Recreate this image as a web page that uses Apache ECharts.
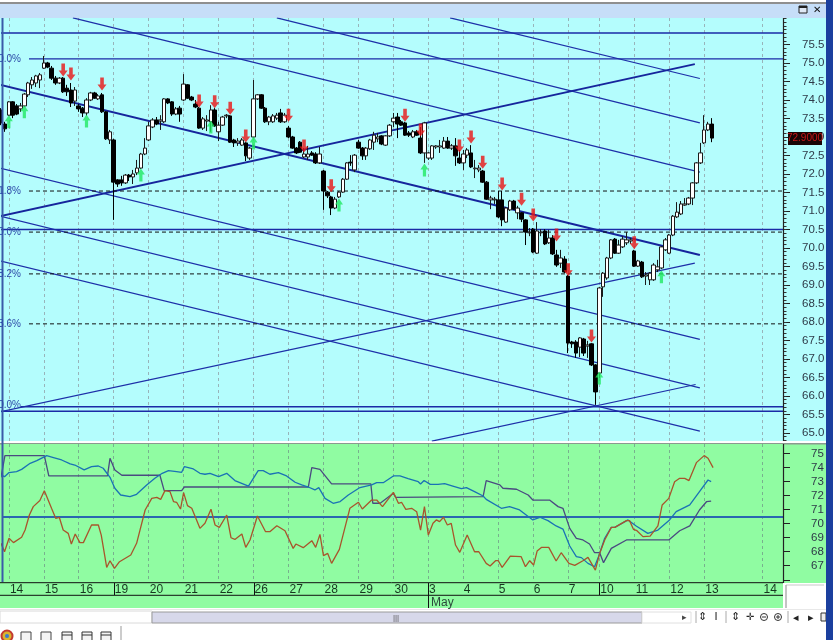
<!DOCTYPE html>
<html><head><meta charset="utf-8">
<style>html,body{margin:0;padding:0;background:#fff}#c{width:833px;height:640px}</style>
<script src="https://cdn.jsdelivr.net/npm/echarts@6/dist/echarts.min.js"></script>
</head><body><div id="c"></div>
<script>
// hourly bars: [open, close, low, high]
const ohlc = [
[73.73,73.38,73.32,73.78],[73.35,73.22,73.14,73.41],[73.59,73.95,73.57,73.97],[73.95,73.59,73.51,73.97],[73.84,73.62,73.59,73.89],
[73.76,73.84,73.68,73.92],[73.84,74.16,73.81,74.19],[74.14,74.46,74.08,74.49],[74.41,74.54,74.30,74.62],[74.46,74.65,74.35,74.68],
[74.54,74.68,74.32,74.73],[74.86,75.00,74.84,75.19],[75.00,74.89,74.86,75.03],[74.86,74.59,74.54,74.92],[74.59,74.46,74.41,74.65],
[74.46,74.59,74.43,74.62],[74.59,74.22,74.19,74.62],[74.32,74.22,74.11,74.41],[74.27,73.92,73.81,74.46],[73.97,74.27,73.84,74.35],
[73.84,73.76,73.68,73.89],[73.78,73.65,73.54,73.81],[73.65,74.00,73.57,74.05],[74.00,74.19,73.97,74.22],[74.19,74.05,74.03,74.22],
[74.03,74.11,74.00,74.16],[74.14,73.68,73.65,74.19],[73.68,72.95,72.92,73.70],[72.92,73.14,72.81,73.19],[72.92,71.78,70.76,72.95],
[71.84,71.73,71.65,71.86],[71.84,71.76,71.68,71.95],[71.76,71.97,71.73,72.00],[71.97,71.92,71.81,72.00],[71.92,72.00,71.73,72.11],
[72.03,72.16,71.97,72.38],[72.16,72.54,72.14,72.57],[72.54,72.70,72.51,72.97],[72.92,73.30,72.89,73.41],[73.27,73.46,73.24,73.51],
[73.46,73.35,73.32,73.54],[73.43,73.46,73.19,73.59],[73.41,74.03,73.38,74.05],[74.03,73.92,73.89,74.05],[73.95,73.62,73.57,73.97],
[73.62,73.76,73.59,73.81],[73.78,73.62,73.41,73.84],[74.00,74.43,73.97,74.70],[74.41,74.05,74.03,74.43],[74.08,74.00,73.97,74.11],
[73.89,73.81,73.78,74.00],[73.78,73.24,73.22,73.81],[73.24,73.49,73.19,73.54],[73.43,73.46,73.16,73.59],[73.41,73.73,73.14,73.86],
[73.73,73.30,73.27,73.78],[73.14,73.32,72.89,73.41],[73.32,73.54,73.30,73.57],[73.57,73.59,73.51,73.62],[73.57,72.86,72.84,73.59],
[72.92,72.84,72.73,72.95],[72.84,72.89,72.76,72.97],[72.78,72.92,72.76,72.97],[72.84,72.49,72.35,72.86],[72.43,72.70,72.38,72.73],
[73.00,74.03,72.97,74.54],[74.03,74.14,74.00,74.16],[74.14,73.78,73.76,74.16],[73.78,73.41,73.38,73.81],[73.41,73.54,73.32,73.57],
[73.41,73.57,73.38,73.62],[73.51,73.59,73.46,73.65],[73.65,73.41,73.38,73.76],[73.41,73.59,73.38,73.65],[73.24,73.00,72.97,73.30],
[73.00,72.70,72.68,73.03],[72.70,72.57,72.54,72.73],[72.86,72.59,72.57,72.89],[72.46,72.54,72.43,72.70],[72.46,72.54,72.38,72.76],
[72.57,72.51,72.49,72.62],[72.54,72.30,72.27,72.59],[72.30,72.54,72.27,72.73],[72.08,71.54,71.03,72.11],[71.51,71.41,71.35,71.54],
[71.38,71.08,70.89,71.41],[71.08,71.32,71.05,71.38],[71.38,71.51,71.35,71.54],[71.51,71.86,71.49,71.89],[71.86,72.30,71.84,72.32],
[72.32,72.30,72.22,72.51],[72.11,72.51,72.05,72.54],[72.86,72.70,72.68,72.92],[72.70,72.49,72.38,72.73],[72.49,72.70,72.38,72.73],
[72.68,72.92,72.65,72.95],[72.86,73.05,72.65,73.14],[72.95,73.00,72.86,73.11],[73.03,72.81,72.78,73.05],[72.78,73.03,72.76,73.05],
[73.03,73.32,73.00,73.35],[73.41,73.51,73.27,73.65],[73.54,73.35,72.97,73.65],[73.41,73.32,73.30,73.46],[73.38,73.05,73.03,73.41],
[73.11,73.05,73.00,73.16],[73.00,73.14,72.97,73.19],[73.14,73.05,73.03,73.19],[72.97,72.57,72.54,73.27],[72.57,73.38,72.30,73.41],
[72.43,72.57,72.38,72.59],[72.43,72.76,72.38,72.78],[72.73,72.76,72.68,72.78],[72.73,72.76,72.57,72.92],[72.70,72.89,72.68,73.00],
[72.89,72.70,72.68,73.00],[72.70,72.76,72.65,72.81],[72.76,72.49,72.22,72.97],[72.43,72.30,72.27,72.65],[72.30,72.54,72.11,72.65],
[72.51,72.65,72.43,72.70],[72.57,72.19,72.16,72.78],[72.14,72.16,71.89,72.38],[72.11,72.16,72.05,72.24],[72.08,71.78,71.76,72.11],
[71.78,71.32,71.30,71.81],[71.30,71.35,71.05,71.41],[71.30,71.32,71.19,71.38],[71.30,70.84,70.81,71.54],[71.30,70.76,70.59,71.54],
[70.70,71.08,70.68,71.11],[71.03,71.27,71.00,71.30],[71.27,71.05,71.03,71.30],[70.95,71.08,70.78,71.14],[70.95,70.78,70.70,70.97],
[70.76,70.43,70.08,70.78],[70.41,70.43,70.32,70.54],[70.51,69.89,69.86,70.54],[69.86,70.46,69.84,70.70],[70.41,70.43,70.32,70.51],
[70.46,70.11,70.08,70.51],[70.14,70.27,70.11,70.49],[70.27,69.84,69.81,70.35],[69.81,69.54,69.49,69.95],[69.59,69.73,69.46,69.95],
[69.70,69.35,69.32,69.78],[69.24,67.43,67.16,69.27],[67.46,67.41,67.30,67.49],[67.46,67.16,67.03,67.51],[67.32,67.57,67.05,67.59],
[67.54,67.16,67.08,67.57],[67.35,67.38,67.03,67.49],[67.41,66.84,66.81,67.43],[66.84,66.11,65.76,66.86],[66.62,68.92,66.49,68.95],
[68.95,69.32,68.68,69.35],[69.19,69.73,69.14,69.76],[69.73,70.22,69.70,70.24],[70.24,69.86,69.84,70.27],[69.86,70.08,69.84,70.22],
[70.03,70.24,70.00,70.32],[70.14,70.22,70.08,70.43],[70.19,70.22,70.11,70.27],[69.92,69.51,69.49,69.95],[69.51,69.65,69.49,69.68],
[69.62,69.22,69.19,69.65],[69.24,69.27,69.00,69.35],[69.14,69.32,69.00,69.35],[69.14,69.54,69.11,69.59],[69.41,69.49,69.35,69.68],
[69.46,70.03,69.43,70.05],[69.95,70.22,69.92,70.27],[69.86,70.35,69.84,70.38],[70.35,70.86,70.32,70.89],[70.84,70.97,70.81,71.24],
[70.92,71.19,70.89,71.27],[71.16,71.19,71.14,71.35],[71.19,71.35,71.16,71.38],[71.35,71.76,71.16,71.78],[71.76,72.30,71.73,72.32],
[72.30,72.57,72.27,72.84],[72.84,73.19,72.81,73.59],[73.19,73.35,73.16,73.41],[73.35,72.97,72.86,73.51]
];
const sellArrows = [[16,74.81],[18,74.70],[26,74.43],[51,73.97],[55,73.95],[59,73.78],[63,73.03],[74,73.59],[78,72.76],[85,71.68],[104,73.59],[108,73.19],[118,72.76],[121,73.00],[124,72.32],[129,71.73],[134,71.32],[137,70.89],[143,70.35],[146,69.41],[152,67.62],[163,70.14]];
const buyArrows = [[2,73.41],[6,73.68],[22,73.43],[36,71.97],[54,73.27],[65,72.84],[87,71.16],[109,72.11],[154,66.49],[170,69.22]];
// channel lines [[bar, price],[bar, price]]
const thinLines = [
 [[18.5,76.22],[179.9,72.05]],[[71,76.22],[179.9,73.38]],[[115.6,76.22],[179.9,74.58]],
 [[-0.26,72.16],[179.9,67.53]],[[-0.26,70.86],[179.9,66.22]],[[-0.26,69.65],[179.9,65.05]],
 [[-0.26,65.57],[178.6,69.59]],[[110.9,64.78],[178.8,66.31]]
];
const thickLines = [[[-0.26,74.41],[179.9,69.81]],[[-0.26,70.86],[178.6,74.97]]];
const fibLevels = [[0,75.81],[7.2,75.11],[0,70.50],[5,65.71],[0,65.59]];
const fibDashed = [[7.2,71.54],[7.2,70.43],[7.2,69.30],[7.2,67.95]];
const fibLabels = [[75.11,'0.0%'],[71.54,'1.8%'],[70.43,'0.0%'],[69.30,'8.2%'],[67.95,'3.6%'],[65.75,'0.0%']];
const lowerRed = [[0,68.60],[0.9,68.0],[2.06,68.96],[3.2,68.65],[5.3,69.03],[6.2,69.55],[7.3,70.62],[8.3,71.22],[10,71.65],[11.15,72.36],[13,71.10],[14.1,70.38],[15,70.46],[16,69.55],[17.3,69.31],[18.1,68.55],[19.1,69.27],[20.3,68.65],[21.2,68.65],[23.3,69.91],[25.05,69.91],[25.8,69.19],[27.2,66.88],[28.05,67.36],[29.2,66.81],[30.5,67.29],[33.4,67.77],[34.9,68.60],[37.1,70.98],[38.8,71.81],[40.1,71.88],[41.1,71.74],[42.2,72.36],[43.5,72.29],[44.4,71.58],[45.2,71.53],[46.2,71.05],[47,72.22],[48,71.29],[49.1,71.10],[51.2,69.67],[52.5,70.03],[54.05,71.03],[55.1,69.91],[56.2,69.74],[58.1,70.62],[59.2,69.00],[60.2,68.88],[62,69.27],[63,68.31],[64.1,68.84],[66,70.55],[68.1,69.43],[69.2,69.43],[71,69.86],[73.1,69.50],[75.2,68.24],[75.9,68.55],[77.8,68.29],[80,68.79],[81,68.31],[82.1,69.24],[83,67.72],[84.1,67.88],[85.1,67.17],[87.1,68.17],[89.8,71.10],[92,71.53],[93,71.05],[95.4,71.69],[96.7,71.69],[98.2,71.22],[101,72.24],[102.3,71.46],[103.1,71.53],[104.2,71.03],[105.7,71.10],[107,70.86],[108,69.55],[109,71.22],[110,69.19],[111.2,70.03],[112.05,70.27],[112.9,70.15],[113.9,70.46],[114.9,69.91],[115.9,70.03],[117,68.48],[118.1,67.96],[120,69.19],[121.9,68.00],[123,68.00],[124.9,67.17],[125.9,66.98],[127.3,67.36],[128,67.36],[129,66.88],[131.1,67.69],[133.9,67.65],[135,66.93],[136.1,67.36],[137.1,67.05],[138,68.05],[139.1,68.31],[141,68.31],[142.9,67.34],[144.2,67.93],[146.2,67.17],[147.7,67.03],[149.8,67.36],[151.1,67.60],[153,66.69],[154.1,67.88],[155.4,68.84],[157.1,69.74],[158,69.74],[161,70.22],[161.8,70.22],[162.8,69.60],[163.7,69.50],[165.25,69.08],[167.1,69.12],[169.1,69.84],[170.2,71.34],[171.9,71.81],[173.4,73.00],[174.7,73.24],[176,73.24],[177.1,73.08],[179,74.36],[181,74.86],[182,74.67],[183.3,74.00]];
const lowerBlue = [[0,73.48],[0.9,73.36],[2.06,73.65],[4,73.72],[5.3,73.88],[7.5,74.31],[9.2,74.50],[11.75,74.86],[13.5,74.72],[15.6,74.55],[17.8,74.27],[19,74.19],[21.4,73.84],[23.3,74.08],[25.05,74.12],[26.3,73.96],[28.05,73.31],[29.3,72.53],[30.8,72.05],[33.2,71.93],[34.9,72.10],[37.5,72.77],[39.6,73.24],[41.5,73.60],[43.1,73.79],[45.2,73.72],[46.5,73.67],[47.2,74.08],[49.5,73.91],[51.2,73.60],[52.5,73.53],[53.8,73.60],[56,73.36],[58.1,73.60],[60.2,73.08],[63.7,72.69],[66.2,73.79],[67.5,73.79],[69.2,73.53],[71.4,73.65],[73.5,73.41],[75.7,72.96],[77.4,72.77],[79.1,72.62],[80.8,72.41],[81.8,72.58],[83.4,71.81],[85.5,71.46],[87.3,71.58],[89.4,72.05],[92.4,72.58],[95.4,72.77],[96.7,72.93],[98.4,72.93],[101,73.41],[102.7,73.41],[104.8,73.22],[107.4,73.00],[108,72.84],[108.9,73.08],[110.5,72.81],[112.5,72.81],[114.2,72.86],[116.3,72.69],[118.5,72.50],[119.8,72.58],[121.9,72.29],[124.1,71.98],[124.9,71.74],[128.8,71.10],[130.9,71.22],[133.5,70.98],[136.9,70.27],[138.7,70.46],[140.8,70.22],[142.9,69.84],[144.65,69.62],[146.4,68.41],[148.1,67.65],[149.4,67.58],[151.1,67.17],[152.8,66.93],[153.8,67.65],[155.4,68.96],[157.1,69.74],[158,69.74],[161.4,70.27],[163.5,69.84],[166.5,69.31],[169.1,69.55],[172.1,70.27],[173.8,70.86],[177.3,71.34],[179.8,72.29],[182,73.12],[182.8,73.00]];
const lowerPurple = [[0,73.31],[1,74.86],[11.15,74.86],[12.3,73.41],[27.4,73.41],[28.05,74.67],[29.3,73.84],[31.1,73.46],[40.9,73.46],[42,72.36],[46.5,72.36],[47.2,72.62],[79.1,72.62],[80,74.00],[82.1,73.88],[85.1,72.84],[95.2,72.84],[95.7,71.46],[97.6,71.46],[101,72.17],[101.6,71.88],[124.1,71.93],[124.9,73.08],[128.4,72.77],[129.2,72.53],[132.7,72.46],[135.7,72.05],[136.9,71.69],[141.2,71.69],[143.4,71.22],[144.65,71.10],[146.4,69.67],[148.1,68.96],[149.8,68.84],[151.5,68.55],[152.8,67.93],[154.1,67.93],[155.1,67.22],[157.1,68.24],[161,68.84],[171.9,68.84],[174.7,69.50],[177.3,69.84],[179.8,70.98],[181.6,71.57],[182.8,71.62]];
const lowerLevel = 70.48;
// vertical day divisions and date labels, in bar numbers
const dayBars = [2,11,20,29,38,47,56,65,74,83,92,101,110,119,128,137,146,154,163,172,181,196];
const dateBars = [4,13,22,31,40,49,58,67,76,85,94,103,111,120,129,138,147,156,165,174,183,198];
const dateLabels = ['14','15','16','19','20','21','22','26','27','28','29','30','3','4','5','6','7','10','11','12','13','14'];
const priceTicks = [65,65.5,66,66.5,67,67.5,68,68.5,69,69.5,70,70.5,71,71.5,72,72.5,73,73.5,74,74.5,75,75.5];
const lowerTicks = [66,67,68,69,70,71,72,73,74,75];
const lowerLabels = [67,68,69,70,71,72,73,74,75];
const lastPrice = '72.9000';

const CYAN='#b4fdfd', GREEN='#90fca2', FONT='"Liberation Sans",Arial,sans-serif';
const X0=0.25, X1=201.3;
const minor=[]; for(let k=648;k<=762;k++){minor.push(k/10);}
const xBase=(extra)=>Object.assign({type:'value',min:X0,max:X1,axisLine:{show:false},axisLabel:{show:false},axisTick:{show:false,customValues:dayBars},
  splitLine:{show:true,lineStyle:{type:[3,3],width:1,color:'#98b4ba'}}},extra||{});
const lineSeries=(data,color,width,x,y,type,z)=>({type:'line',xAxisIndex:x,yAxisIndex:y,data,showSymbol:false,symbol:'none',silent:true,animation:false,z:z||2,
  lineStyle:{color,width,type:type||'solid'}});
const series=[];
thinLines.forEach(l=>series.push(lineSeries(l,'#1d2fa8',1.2,0,0)));
thickLines.forEach(l=>series.push(lineSeries(l,'#16259c',2,0,0)));
fibLevels.forEach(([s,p])=>series.push(lineSeries([[s,p],[X1,p]],'#1a2aa6',1.4,0,0)));
fibDashed.forEach(([s,p])=>series.push(lineSeries([[s,p],[X1,p]],'#111',1,0,0,[4,3])));
series.push({type:'candlestick',xAxisIndex:0,yAxisIndex:0,z:3,barWidth:4,animation:false,silent:true,
  data:ohlc.map((r,i)=>[i].concat(r)),encode:{x:0,y:[1,2,3,4]},
  itemStyle:{color:'#ffffff',color0:'#000000',borderColor:'#1a1a1a',borderColor0:'#000000',borderWidth:1}});
const DOWN='path://M3,0 L7,0 L7,7 L10,7 L5,13 L0,7 L3,7 Z', UP='path://M5,0 L10,6 L7,6 L7,13 L3,13 L3,6 L0,6 Z';
series.push({type:'scatter',xAxisIndex:0,yAxisIndex:0,z:4,symbol:DOWN,symbolSize:[9,13],data:sellArrows,itemStyle:{color:'#ea1414'},silent:true,animation:false});
series.push({type:'scatter',xAxisIndex:0,yAxisIndex:0,z:4,symbol:UP,symbolSize:[8,13],data:buyArrows,itemStyle:{color:'#1fe860'},silent:true,animation:false});
series.push(lineSeries([[X0,lowerLevel],[X1,lowerLevel]],'#2a66b0',2,1,2));
series.push(lineSeries(lowerPurple,'#4a4a80',1.3,1,2,null,3));
series.push(lineSeries(lowerBlue,'#1a72b5',1.3,1,2,null,3));
series.push(lineSeries(lowerRed,'#a8552c',1.3,1,2,null,3));

const rect=(x,y,w,h,fill,z,stroke)=>({type:'rect',shape:{x,y,width:w,height:h},style:{fill,stroke:stroke||null,lineWidth:stroke?1:0},z:z==null?-1:z,silent:true});
const seg=(x1,y1,x2,y2,stroke,w,z)=>({type:'line',shape:{x1,y1,x2,y2},style:{stroke,lineWidth:w||1},z:z==null?5:z,silent:true});
const txt=(x,y,t,fill,size,align)=>({type:'text',x,y,style:{text:t,fill,font:(size||12)+'px '+FONT,align:align||'left',verticalAlign:'middle'},z:7,silent:true});
const priceY=p=>63+37*(75-p);
const g=[
 rect(0,0,833,640,'#ffffff'),
 rect(0,2,826,2,'#8f8f8f'),
 rect(0,4,826,14,'#c6def8'),
 rect(0,18,826,423,CYAN),
 rect(0,444,826,139,GREEN),
 rect(0,443,826,1.5,'#8a9a90',-1),
 rect(0,583,783,25,GREEN),
 rect(826,0,7,640,'#1b3f9e',8),
 seg(2.5,18,2.5,582,'#3a5aa8',2),
 seg(783.5,18,783.5,441,'#222',1.2),
 seg(783.5,444,783.5,583,'#222',1.2),
 seg(0,582.7,783,582.7,'#111',1),
 seg(0,595.3,783,595.3,'#111',1),
 seg(114.5,583,114.5,595,'#111',1),
 seg(254.5,583,254.5,595,'#111',1),
 seg(428.5,583,428.5,608,'#111',1),
 seg(599.5,583,599.5,595,'#111',1),
 seg(786,585,824,585,'#c8c8c8',1),
 seg(786,585,786,608,'#b0b0b0',1.5),
 txt(431,602.5,'May','#2c4a3c',12),
 // price tag
 rect(788,132,34,13,'#1a0505',5),
 txt(805,138.7,lastPrice,'#c81818',10,'center'),
 // window buttons
 rect(799,6,8,7,'#dfe8f5',6,'#222'), rect(799,6,8,2,'#222',6),
 txt(817,10,'✕','#111',10,'center'),
 // scrollbar
 rect(0,609,833,1,'#e8e8e8',0),
 rect(0,611,152,12,'#ffffff',0,'#dadada'),
 rect(152,612,490,11,'#d7d8ea',0,'#9a9a9a'),
 rect(642,612,49,11,'#ffffff',0,'#e0e0e0'),
 txt(396,617.5,'|||','#555',8,'center'),
 txt(684,617.5,'▸','#444',9,'center'),
 seg(696,611,696,623,'#aaa',1),
 txt(702,617,'⇕','#222',11,'center'), txt(716,617,'I','#222',11,'center'),
 seg(726,611,726,623,'#aaa',1),
 txt(735,617,'⇕','#222',11,'center'), txt(750,617,'✛','#222',10,'center'),
 {type:'circle',shape:{cx:764,cy:617,r:3.5},style:{fill:'none',stroke:'#333',lineWidth:1},z:6,silent:true},
 seg(762,617,766,617,'#333',1),
 {type:'circle',shape:{cx:778,cy:617,r:3.5},style:{fill:'none',stroke:'#333',lineWidth:1},z:6,silent:true},
 seg(776,617,780,617,'#333',1), seg(778,615,778,619,'#333',1),
 seg(788,611,788,623,'#aaa',1),
 txt(796,617.5,'◂','#222',11,'center'), txt(811,617.5,'▸','#222',11,'center'),
 rect(821,613,5,8,'#eee',6,'#333'),
 // taskbar icons
 {type:'circle',shape:{cx:7,cy:636,r:5.5},style:{fill:'#d8b430',stroke:'#c43a30',lineWidth:2},z:6,silent:true},
 {type:'circle',shape:{cx:7,cy:636,r:2},style:{fill:'#3a78d0'},z:7,silent:true},
 rect(21,632,10,9,'#f4f4f4',6,'#444'), rect(41,632,10,9,'#f4f4f4',6,'#444'),
 rect(62,632,10,9,'#f4f4f4',6,'#333'), rect(82,632,10,9,'#f4f4f4',6,'#333'), rect(101,632,10,9,'#f4f4f4',6,'#333'),
 seg(62,635,72,635,'#333',1,7), seg(82,635,92,635,'#333',1,7), seg(101,635,111,635,'#333',1,7),
 seg(121,626,121,640,'#999',1)
];
fibLabels.forEach(([p,t])=>g.push(txt(21,priceY(p),t,'#2c4aa8',10,'right')));

const chart=echarts.init(document.getElementById('c'),null,{renderer:'canvas',width:833,height:640});
chart.setOption({
 animation:false,
 backgroundColor:'#fff',
 graphic:{elements:g},
 grid:[
  {left:2,top:18,width:781,height:423,show:true,backgroundColor:CYAN,borderWidth:0,containLabel:false},
  {left:2,top:444,width:781,height:138,show:true,backgroundColor:GREEN,borderWidth:0,containLabel:false}
 ],
 xAxis:[
  xBase({gridIndex:0}),
  xBase({gridIndex:1,splitLine:{show:true,lineStyle:{type:[3,3],width:1,color:'#78b08e'}},
   axisLabel:{show:true,customValues:dateBars,interval:0,hideOverlap:false,margin:2,fontFamily:FONT,fontSize:12,color:'#17361f',
    formatter:v=>dateLabels[dateBars.indexOf(v)]}})
 ],
 yAxis:[
  {type:'value',gridIndex:0,position:'right',min:64.784,max:76.216,splitLine:{show:false},axisLine:{show:false},
   axisTick:{show:true,inside:false,length:7,customValues:priceTicks,lineStyle:{color:'#222'}},
   axisLabel:{show:true,customValues:priceTicks,margin:19,align:'left',fontFamily:FONT,fontSize:11.5,color:'#2e3a48',formatter:v=>v.toFixed(1)}},
  {type:'value',gridIndex:0,position:'right',min:64.784,max:76.216,splitLine:{show:false},axisLine:{show:false},
   axisTick:{show:true,length:3.5,customValues:minor,lineStyle:{color:'#333'}},axisLabel:{show:false}},
  {type:'value',gridIndex:1,position:'right',min:65.84,max:75.69,splitLine:{show:false},axisLine:{show:false},
   axisTick:{show:true,length:7,customValues:lowerTicks,lineStyle:{color:'#222'}},
   axisLabel:{show:true,customValues:lowerLabels,margin:28,align:'left',fontFamily:FONT,fontSize:11.5,color:'#2e3a48',formatter:v=>String(v)}}
 ],
 series
});
</script></body></html>
